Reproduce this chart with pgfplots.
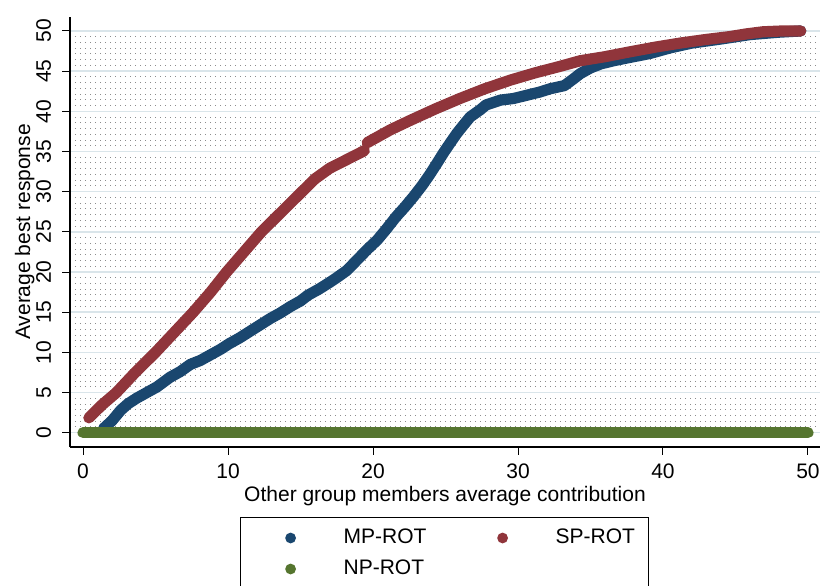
\documentclass[border=0pt]{standalone}
\usepackage{fontspec}
\setmainfont{Liberation Sans}
\usepackage{pgfplots}
\pgfplotsset{compat=1.18}
\definecolor{mpcol}{RGB}{26,71,111}
\definecolor{spcol}{RGB}{144,53,59}
\definecolor{npcol}{RGB}{85,117,47}
\definecolor{gridcol}{RGB}{218,229,234}
\begin{document}
\begin{tikzpicture}[font=\fontsize{10.5}{12.6}\selectfont]
\begin{axis}[
  at={(0,0)}, anchor=south west,
  scale only axis, width=375pt, height=215pt,
  xmin=-0.9, xmax=50.83, ymin=-1.78, ymax=51.74,
  axis lines*=left,
  axis line style={-, black, line width=0.6pt},
  tick align=outside,
  major tick length=3.8pt,
  tick style={black, line width=0.5pt},
  xtick={0,10,...,50}, ytick={0,5,...,50},
  minor y tick num=6,
  minor tick length=0pt,
  ymajorgrids, yminorgrids,
  major grid style={gridcol, line width=0.75pt},
  minor grid style={black!45, line width=0.5pt, dash pattern=on 0.5pt off 2pt},
  /pgf/number format/assume math mode=true,
  yticklabel style={rotate=90, anchor=south, inner sep=0pt},
  yticklabel shift=5.45pt,
  xticklabel style={anchor=north, inner sep=0pt},
  xticklabel shift=4.2pt,
  xlabel={Other group members average contribution},
  ylabel={Average best response},
  xlabel style={at={(axis description cs:0.5,0)}, anchor=north, yshift=-19.5pt, inner sep=0pt},
  ylabel style={at={(axis description cs:-0.05333,0.5)}, anchor=base, inner sep=0pt},
  unbounded coords=jump,
  legend columns=2,
  legend cell align=left,
  legend image code/.code={\path (0pt,0pt) (45.9pt,0pt); \path[fill, draw=none, line width=0pt] (22.2pt,0pt) circle (2.7pt);},
  legend style={at={(0.22667,-0.16279)}, anchor=north west, draw=black, line width=0.6pt,
    inner xsep=0pt, inner ysep=5pt, row sep=5.1pt, column sep=0pt,
    /tikz/every even column/.append style={column sep=8pt},
    nodes={inner sep=0pt, text height=7.8pt, text depth=2.6pt, text width=46.5pt, align=left}},
]
\addplot[color=mpcol, line width=5.6pt, line cap=round, line join=round, no marks] coordinates {
(1.4,0.5) (2.0,1.5) (2.6,2.8) (3.1,3.6) (3.7,4.3) (4.4,5.0) (5.1,5.7) (6.0,6.9) (6.7,7.6)
(7.4,8.5) (8.1,9.0) (8.8,9.7) (9.5,10.4) (10.1,11.1) (10.8,11.8) (11.5,12.6) (12.2,13.4)
(12.9,14.2) (13.6,14.9) (14.3,15.7) (15.0,16.4) (15.5,17.1) (16.3,17.9) (17.0,18.7)
(17.5,19.3) (18.2,20.2) (18.9,21.5) (19.6,22.8) (20.3,24.0) (20.9,25.3) (21.6,26.9)
(22.2,28.1) (22.8,29.4) (23.4,30.8) (23.9,32.1) (24.4,33.5) (24.85,34.8) (25.3,36.0)
(25.8,37.3) (26.2,38.2) (26.7,39.3) (27.4,40.2) (27.8,40.8) (28.8,41.4) (29.7,41.6)
(30.6,42.0) (31.5,42.4) (32.2,42.8) (33.2,43.2) (33.8,44.0) (34.3,44.7) (35.0,45.4)
(35.7,45.9) (36.6,46.3) (37.7,46.7) (39.1,47.2) (40.5,47.9) (42.0,48.5) (44.0,49.0)
(46.0,49.55) (48.0,49.85) (49.5,50.0)
};
\addlegendentry{MP-ROT}
\addplot[color=spcol, line width=5.6pt, line cap=round, line join=round, no marks] coordinates {
(0.4,1.85) (1.3,3.45) (2.3,5.0) (3.6,7.5) (5.0,10.0) (6.3,12.5) (7.6,15.0) (8.8,17.5)
(9.9,20.0) (11.1,22.5) (12.3,25.0) (13.7,27.5) (15.1,30.0) (16.0,31.6) (17.0,32.9)
(18.2,34.0) (19.4,35.1) (19.5,nan)
(19.6,36.1) (21.2,37.7) (22.6,38.9) (24.3,40.3) (26.0,41.6) (27.7,42.8) (29.5,43.9)
(31.2,44.8) (32.9,45.6) (34.3,46.3) (36.0,46.8) (37.7,47.4) (39.5,48.0) (41.2,48.5)
(43.0,48.95) (44.6,49.3) (45.8,49.65) (46.9,49.9) (48.2,50.0) (49.5,50.0)
};
\addlegendentry{SP-ROT}
\addplot[color=npcol, line width=5.6pt, line cap=round, line join=round, no marks] coordinates {
(0,0) (5,0) (10,0) (15,0) (20,0) (25,0) (30,0) (35,0) (40,0) (45,0) (50,0)
};
\addlegendentry{NP-ROT}
\end{axis}
\pgfresetboundingbox
\useasboundingbox (-35pt,-69pt) rectangle (379.5pt,223.5pt);
\end{tikzpicture}
\end{document}
